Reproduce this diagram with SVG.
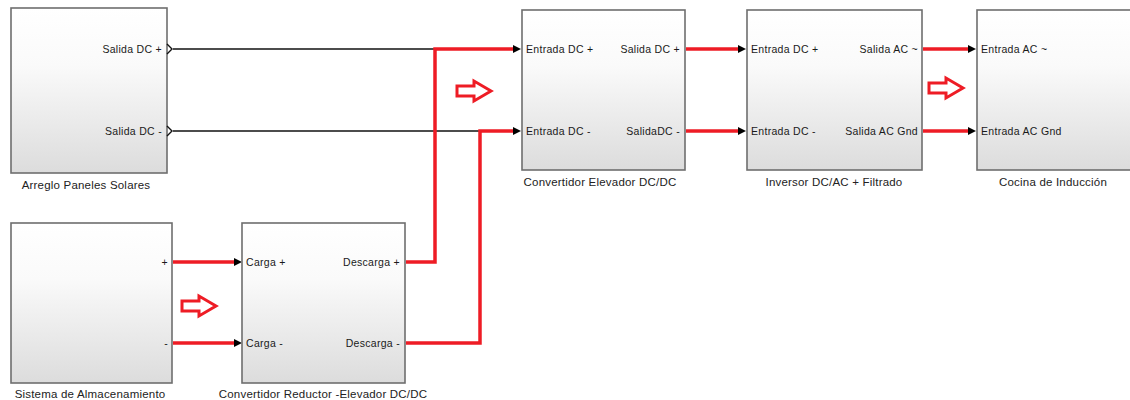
<svg xmlns="http://www.w3.org/2000/svg" width="1130" height="400" viewBox="0 0 1130 400">
<style>
.blk{stroke:#6e6e6e;stroke-width:1.6;fill:url(#g)}
.t{font-family:"Liberation Sans",Arial,sans-serif;font-size:10.5px;letter-spacing:0.3px;fill:#1a1a1a}
.lbl{font-family:"Liberation Sans",Arial,sans-serif;font-size:11.5px;letter-spacing:0.2px;fill:#222;text-anchor:middle}
.r{text-anchor:end}
.red{stroke:#ee1c25;stroke-width:3.5;fill:none}
.blk-line{stroke:#111;stroke-width:1.3;fill:none}
.hollow{fill:none;stroke:#ee1c25;stroke-width:3}
.chev{fill:none;stroke:#111;stroke-width:1.4}
</style>
<defs>
<linearGradient id="g" x1="0" y1="0" x2="0" y2="1">
<stop offset="0" stop-color="#ffffff"/>
<stop offset="0.35" stop-color="#fafafa"/>
<stop offset="1" stop-color="#dcdcdc"/>
</linearGradient>
</defs>
<rect width="1130" height="400" fill="#fff"/>

<g id="connectors">
<line class="blk-line" x1="173" y1="49" x2="435" y2="49"/>
<line class="blk-line" x1="173" y1="131" x2="480" y2="131"/>
<polyline class="red" points="406,262 435,262 435,49 514,49"/>
<polyline class="red" points="406,343 480,343 480,131 514,131"/>
<line class="red" x1="173" y1="262" x2="234" y2="262"/>
<line class="red" x1="173" y1="343" x2="234" y2="343"/>
<line class="red" x1="686" y1="49" x2="739" y2="49"/>
<line class="red" x1="686" y1="131" x2="739" y2="131"/>
<line class="red" x1="923" y1="49" x2="969" y2="49"/>
<line class="red" x1="923" y1="131" x2="969" y2="131"/>
<path d="M513,45 L521,49 L513,53 z" fill="#000"/>
<path d="M513,127 L521,131 L513,135 z" fill="#000"/>
<path d="M234,258 L242,262 L234,266 z" fill="#000"/>
<path d="M234,339 L242,343 L234,347 z" fill="#000"/>
<path d="M738,45 L746,49 L738,53 z" fill="#000"/>
<path d="M738,127 L746,131 L738,135 z" fill="#000"/>
<path d="M968,45 L976,49 L968,53 z" fill="#000"/>
<path d="M968,127 L976,131 L968,135 z" fill="#000"/>
<path class="hollow" d="M457,86 L474,86 L474,81 L491,91 L474,101 L474,96 L457,96 z"/>
<path class="hollow" d="M182,301 L199,301 L199,296 L216,306 L199,316 L199,311 L182,311 z"/>
<path class="hollow" d="M929,83 L946,83 L946,78 L963,88 L946,98 L946,93 L929,93 z"/>
</g>

<g id="paneles">
<rect class="blk" x="11" y="8" width="156" height="165"/>
<text class="t r" x="162" y="53">Salida DC +</text>
<text class="t r" x="162" y="135">Salida DC -</text>
<polyline class="chev" points="167,44 172,49 167,54"/>
<polyline class="chev" points="167,126 172,131 167,136"/>
<text class="lbl" x="86" y="189">Arreglo Paneles Solares</text>
</g>

<g id="almacenamiento">
<rect class="blk" x="11" y="223" width="161" height="160"/>
<text class="t r" x="168" y="266">+</text>
<text class="t r" x="168" y="347">-</text>
<text class="lbl" x="90" y="398">Sistema de Almacenamiento</text>
</g>

<g id="reductor">
<rect class="blk" x="242" y="223" width="163" height="160"/>
<text class="t" x="246" y="266">Carga +</text>
<text class="t" x="246" y="347">Carga -</text>
<text class="t r" x="400" y="266">Descarga +</text>
<text class="t r" x="400" y="347">Descarga -</text>
<text class="lbl" x="323" y="398">Convertidor Reductor -Elevador DC/DC</text>
</g>

<g id="elevador">
<rect class="blk" x="522" y="10" width="163" height="160"/>
<text class="t" x="526" y="53">Entrada DC +</text>
<text class="t" x="526" y="135">Entrada DC -</text>
<text class="t r" x="680" y="53">Salida DC +</text>
<text class="t r" x="680" y="135">SalidaDC -</text>
<text class="lbl" x="600" y="186">Convertidor Elevador DC/DC</text>
</g>

<g id="inversor">
<rect class="blk" x="747" y="10" width="175" height="160"/>
<text class="t" x="751" y="53">Entrada DC +</text>
<text class="t" x="751" y="135">Entrada DC -</text>
<text class="t r" x="918" y="53">Salida AC ~</text>
<text class="t r" x="918" y="135">Salida AC Gnd</text>
<text class="lbl" x="834" y="186">Inversor DC/AC + Filtrado</text>
</g>

<g id="cocina">
<rect class="blk" x="977" y="10" width="160" height="160"/>
<text class="t" x="981" y="53">Entrada AC ~</text>
<text class="t" x="981" y="135">Entrada AC Gnd</text>
<text class="lbl" x="1053" y="186">Cocina de Inducción</text>
</g>
</svg>
